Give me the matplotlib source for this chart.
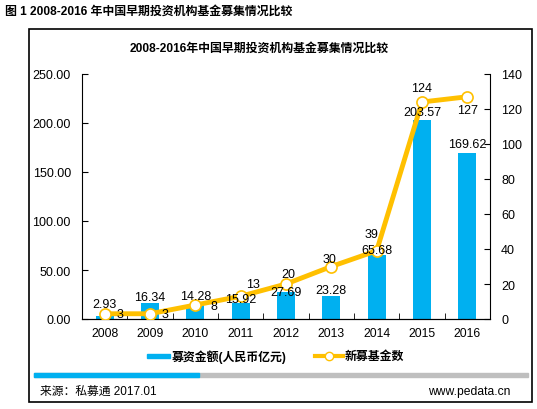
import matplotlib.pyplot as plt
from matplotlib.patches import Rectangle
from matplotlib.lines import Line2D

plt.rcParams['font.family'] = ['Liberation Sans', 'Noto Sans CJK SC', 'DejaVu Sans']

years = ['2008', '2009', '2010', '2011', '2012', '2013', '2014', '2015', '2016']
amount = [2.93, 16.34, 14.28, 15.92, 27.69, 23.28, 65.68, 203.57, 169.62]
funds = [3, 3, 8, 13, 20, 30, 39, 124, 127]

bar_color = '#00B0F0'
line_color = '#FFC000'

W, H = 537, 410
fig = plt.figure(figsize=(W / 100, H / 100), dpi=100)

def fx(px):
    return px / W

def fy(py):
    return 1 - py / H

# outer frame
fig.patches.append(Rectangle((fx(29), fy(403)), fx(532) - fx(29), fy(30) - fy(403),
                             transform=fig.transFigure, fill=False, ec='black', lw=1.2))

fig.text(fx(5), fy(12), '图 1 2008-2016 年中国早期投资机构基金募集情况比较',
         fontsize=8.6, fontweight='bold', va='center', ha='left')
fig.text(fx(259), fy(49), '2008-2016年中国早期投资机构基金募集情况比较',
         fontsize=8.6, fontweight='bold', va='center', ha='center')

ax = fig.add_axes([fx(82), fy(320), fx(490) - fx(82), fy(75) - fy(320)])
x = list(range(len(years)))
ax.bar(x, amount, width=0.4, color=bar_color, zorder=2)
ax.set_xlim(-0.5, len(years) - 0.5)
ax.set_ylim(0, 250)
ax.set_yticks([0, 50, 100, 150, 200, 250])
ax.set_yticklabels(['%.2f' % v for v in [0, 50, 100, 150, 200, 250]])
ax.set_xticks(x)
ax.set_xticklabels(years)
ax.set_xticks([i + 0.5 for i in x[:-1]], minor=True)
ax.tick_params(axis='x', which='major', length=0, labelsize=8.7, pad=6)
ax.tick_params(axis='x', which='minor', direction='in', length=4)
ax.tick_params(axis='y', direction='in', length=4, labelsize=9, pad=8)
ax.spines['top'].set_visible(False)
ax.spines['right'].set_visible(False)

ax2 = ax.twinx()
ax2.plot(x, funds, color=line_color, lw=3.5, marker='o', ms=8,
         mfc='white', mec=line_color, mew=1.2, zorder=3)
ax2.set_ylim(0, 140)
ax2.set_yticks(range(0, 141, 20))
ax2.tick_params(axis='y', direction='in', length=4, labelsize=9, pad=8)
ax2.spines['top'].set_visible(False)
ax2.spines['left'].set_visible(False)

# bar value labels, drawn on top of the line
bar_dy = [8.6, 4.3, 6.5, 3, 0, 4.7, 3.6, 5.4, 6.5]
for i, v in enumerate(amount):
    ax2.annotate('%.2f' % v, (i, v), xycoords=ax.transData, xytext=(0, bar_dy[i]),
                 textcoords='offset points', ha='center', va='center', fontsize=9, zorder=6)

# line value labels
offsets = [(11, 0), (11, 0), (13.5, -1), (9, 9), (2, 7), (-1.5, 5.5), (-3.5, 12), (0, 10), (0, -9.5)]
for i, v in enumerate(funds):
    dx, dy = offsets[i]
    ax2.annotate(str(v), (i, v), xytext=(dx, dy), textcoords='offset points',
                 ha='center', va='center', fontsize=9, zorder=6)

# legend
fig.patches.append(Rectangle((fx(147), fy(359)), fx(170) - fx(147), 4 / H,
                             transform=fig.transFigure, color=bar_color))
fig.text(fx(172), fy(357), '募资金额(人民币亿元)', fontsize=8.6, fontweight='bold',
         va='center', ha='left')
fig.lines.append(Line2D([fx(315), fx(343)], [fy(357), fy(357)], transform=fig.transFigure,
                        color=line_color, lw=3))
fig.lines.append(Line2D([fx(329)], [fy(357)], transform=fig.transFigure,
                        color=line_color, marker='o', ms=6, mfc='white', mec=line_color))
fig.text(fx(345), fy(357), '新募基金数', fontsize=8.6, fontweight='bold',
         va='center', ha='left')

# footer bar
fig.patches.append(Rectangle((fx(34), fy(378)), fx(528) - fx(34), 4 / H,
                             transform=fig.transFigure, color='#BFBFBF'))
fig.patches.append(Rectangle((fx(34), fy(378)), fx(199) - fx(34), 4 / H,
                             transform=fig.transFigure, color=bar_color))
fig.text(fx(40), fy(392), '来源：私募通 2017.01', fontsize=8.5, va='center', ha='left')
fig.text(fx(510), fy(392), 'www.pedata.cn', fontsize=8.7, va='center', ha='right')

fig.savefig('out.png', dpi=100)
